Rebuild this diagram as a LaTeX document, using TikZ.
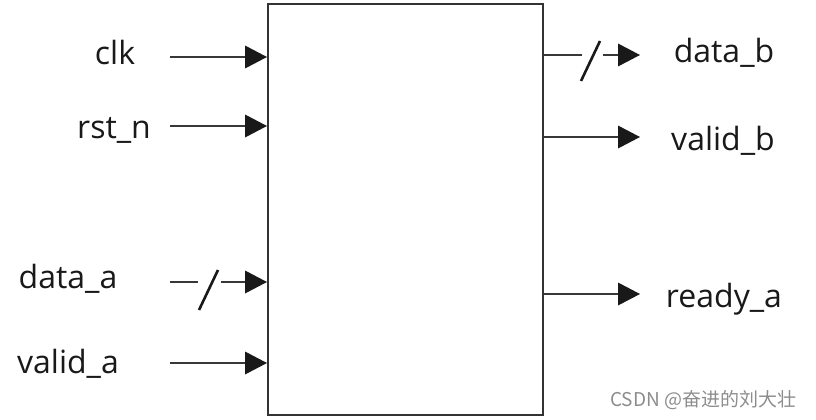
\documentclass[tikz,border=0pt]{standalone}
\usepackage{fontspec}
\setmainfont{Open Sans}
\newfontfamily\cjk{Noto Sans CJK SC}
\usetikzlibrary{arrows.meta}
\begin{document}
\begin{tikzpicture}[x=1pt,y=-1pt,
  wire/.style={line width=2.2pt, draw=black!78, -{Triangle[length=22pt,width=23pt,fill=black!90,line width=0pt]}},
  plain/.style={line width=2.2pt, draw=black!78},
  slash/.style={line width=2.6pt, draw=black!90},
  lbl/.style={font=\fontsize{32}{32}\selectfont, text=black!90, inner sep=0pt, anchor=base},
  wmark/.style={font=\cjk\fontsize{19}{19}\selectfont, text=black!45, inner sep=0pt, anchor=base west}]
\useasboundingbox (0,0) rectangle (816,420);
% block
\node[draw=black!80, line width=2pt, minimum width=275pt, minimum height=411pt, inner sep=0pt, anchor=north west] (box) at (267,3) {};
% left labels
\node[lbl] (clk) at (115,65) {clk};
\node[lbl] (rst) at (114,138) {rst\_n};
\node[lbl] (dataa) at (68,288) {data\_a};
\node[lbl] (valida) at (68,373) {valid\_a};
% right labels
\node[lbl] (datab) at (724,63) {data\_b};
\node[lbl] (validb) at (723,150) {valid\_b};
\node[lbl] (readya) at (724,307) {ready\_a};
% input wires
\coordinate (clkS) at (170,57);
\coordinate (rstS) at (170,126);
\coordinate (daS) at (170,282);
\coordinate (daM) at (198,282);
\coordinate (daN) at (221,282);
\coordinate (vaS) at (170,363);
\draw[wire] (clkS) -- (clkS -| box.west);
\draw[wire] (rstS) -- (rstS -| box.west);
\draw[plain] (daS) -- (daM);
\draw[wire] (daN) -- (daN -| box.west);
\coordinate (daSl1) at (199,310);
\coordinate (daSl2) at (218,270);
\draw[slash] (daSl1) -- (daSl2);
\draw[wire] (vaS) -- (vaS -| box.west);
% output wires
\coordinate (dbM) at (582,55);
\coordinate (dbN) at (603,55);
\coordinate (dbE) at (640,55);
\coordinate (vbE) at (640,137);
\coordinate (raE) at (640,294);
\draw[plain] (dbM -| box.east) -- (dbM);
\draw[wire] (dbN) -- (dbE);
\coordinate (dbSl1) at (581,81);
\coordinate (dbSl2) at (600,41);
\draw[slash] (dbSl1) -- (dbSl2);
\draw[wire] (vbE -| box.east) -- (vbE);
\draw[wire] (raE -| box.east) -- (raE);
% watermark
\node[wmark] (wm) at (610,406) {CSDN @奋进的刘大壮};
\end{tikzpicture}
\end{document}
